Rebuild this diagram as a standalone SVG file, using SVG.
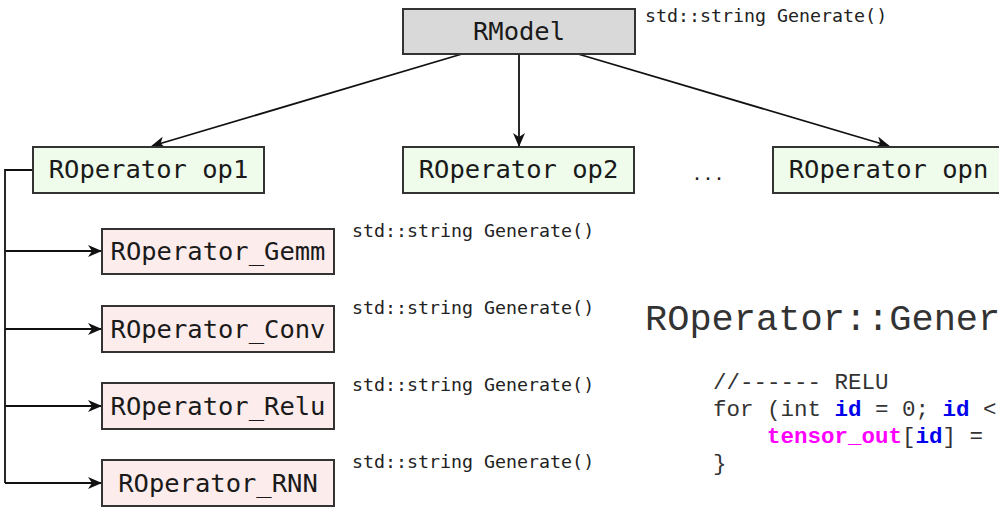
<svg xmlns="http://www.w3.org/2000/svg" width="999" height="508" viewBox="0 0 999 508">
  <defs>
    <marker id="arr" markerWidth="14" markerHeight="12" refX="13" refY="6" orient="auto" markerUnits="userSpaceOnUse">
      <path d="M0,0 L14,6 L0,12 L4,6 Z" fill="#111"/>
    </marker>
    <style>
      .box { stroke: #333; stroke-width: 2; }
      .model { fill: #d9d9d9; }
      .op { fill: #effcec; }
      .sub { fill: #fdecec; }
      .lbl { font-family: "DejaVu Sans Mono", monospace; font-size: 25.5px; fill: #1a1a1a; }
      .note { font-family: "DejaVu Sans Mono", monospace; font-size: 18.3px; fill: #222; }
      .code { font-family: "Liberation Mono", "Courier New", monospace; font-size: 22.5px; fill: #333; }
      .kw { fill: #0000ee; font-weight: bold; }
      .mg { fill: #ff00ff; font-weight: bold; }
      .conn { stroke: #111; stroke-width: 1.8; fill: none; }
    </style>
  </defs>
  <rect width="999" height="508" fill="#ffffff"/>

  <!-- connectors -->
  <g id="connectors">
    <line class="conn" x1="462" y1="54" x2="152" y2="146" marker-end="url(#arr)"/>
    <line class="conn" x1="519" y1="54" x2="519" y2="146" marker-end="url(#arr)"/>
    <line class="conn" x1="578" y1="54" x2="889" y2="146" marker-end="url(#arr)"/>
    <polyline class="conn" points="33,170 5,170 5,483"/>
    <line class="conn" x1="5" y1="251" x2="101" y2="251" marker-end="url(#arr)"/>
    <line class="conn" x1="5" y1="329" x2="101" y2="329" marker-end="url(#arr)"/>
    <line class="conn" x1="5" y1="406" x2="101" y2="406" marker-end="url(#arr)"/>
    <line class="conn" x1="5" y1="483" x2="101" y2="483" marker-end="url(#arr)"/>
  </g>

  <!-- model -->
  <g id="rmodel">
    <rect class="box model" x="403" y="9" width="232" height="45"/>
    <text class="lbl" x="519" y="40" text-anchor="middle">RModel</text>
  </g>
  <text class="note" x="645" y="22">std::string Generate()</text>

  <!-- operators -->
  <g id="op1">
    <rect class="box op" x="33" y="147" width="231" height="46"/>
    <text class="lbl" x="148.5" y="178" text-anchor="middle">ROperator op1</text>
  </g>
  <g id="op2">
    <rect class="box op" x="403" y="147" width="231" height="46"/>
    <text class="lbl" x="518.5" y="178" text-anchor="middle">ROperator op2</text>
  </g>
  <text class="note" x="708" y="180" text-anchor="middle">...</text>
  <g id="opn">
    <rect class="box op" x="773" y="147" width="231" height="46"/>
    <text class="lbl" x="888.5" y="178" text-anchor="middle">ROperator opn</text>
  </g>

  <!-- operator kinds -->
  <g id="gemm">
    <rect class="box sub" x="102" y="229" width="232" height="45"/>
    <text class="lbl" x="218" y="260" text-anchor="middle">ROperator_Gemm</text>
  </g>
  <text class="note" x="352" y="237">std::string Generate()</text>
  <g id="conv">
    <rect class="box sub" x="102" y="306" width="232" height="46"/>
    <text class="lbl" x="218" y="338" text-anchor="middle">ROperator_Conv</text>
  </g>
  <text class="note" x="352" y="314">std::string Generate()</text>
  <g id="relu">
    <rect class="box sub" x="102" y="383" width="232" height="46"/>
    <text class="lbl" x="218" y="415" text-anchor="middle">ROperator_Relu</text>
  </g>
  <text class="note" x="352" y="391">std::string Generate()</text>
  <g id="rnn">
    <rect class="box sub" x="102" y="460" width="232" height="46"/>
    <text class="lbl" x="218" y="492" text-anchor="middle">ROperator_RNN</text>
  </g>
  <text class="note" x="352" y="468">std::string Generate()</text>

  <!-- generated code -->
  <text class="code" x="645" y="330" style="font-size:37px">ROperator::Gener</text>
  <text class="code" x="713" y="389">//------ RELU</text>
  <text class="code" x="713" y="416">for (int <tspan class="kw">id</tspan> = 0; <tspan class="kw">id</tspan> &lt;</text>
  <text class="code" x="713" y="443" xml:space="preserve">    <tspan class="mg">tensor_out</tspan>[<tspan class="kw">id</tspan>] =</text>
  <text class="code" x="713" y="470">}</text>
</svg>
